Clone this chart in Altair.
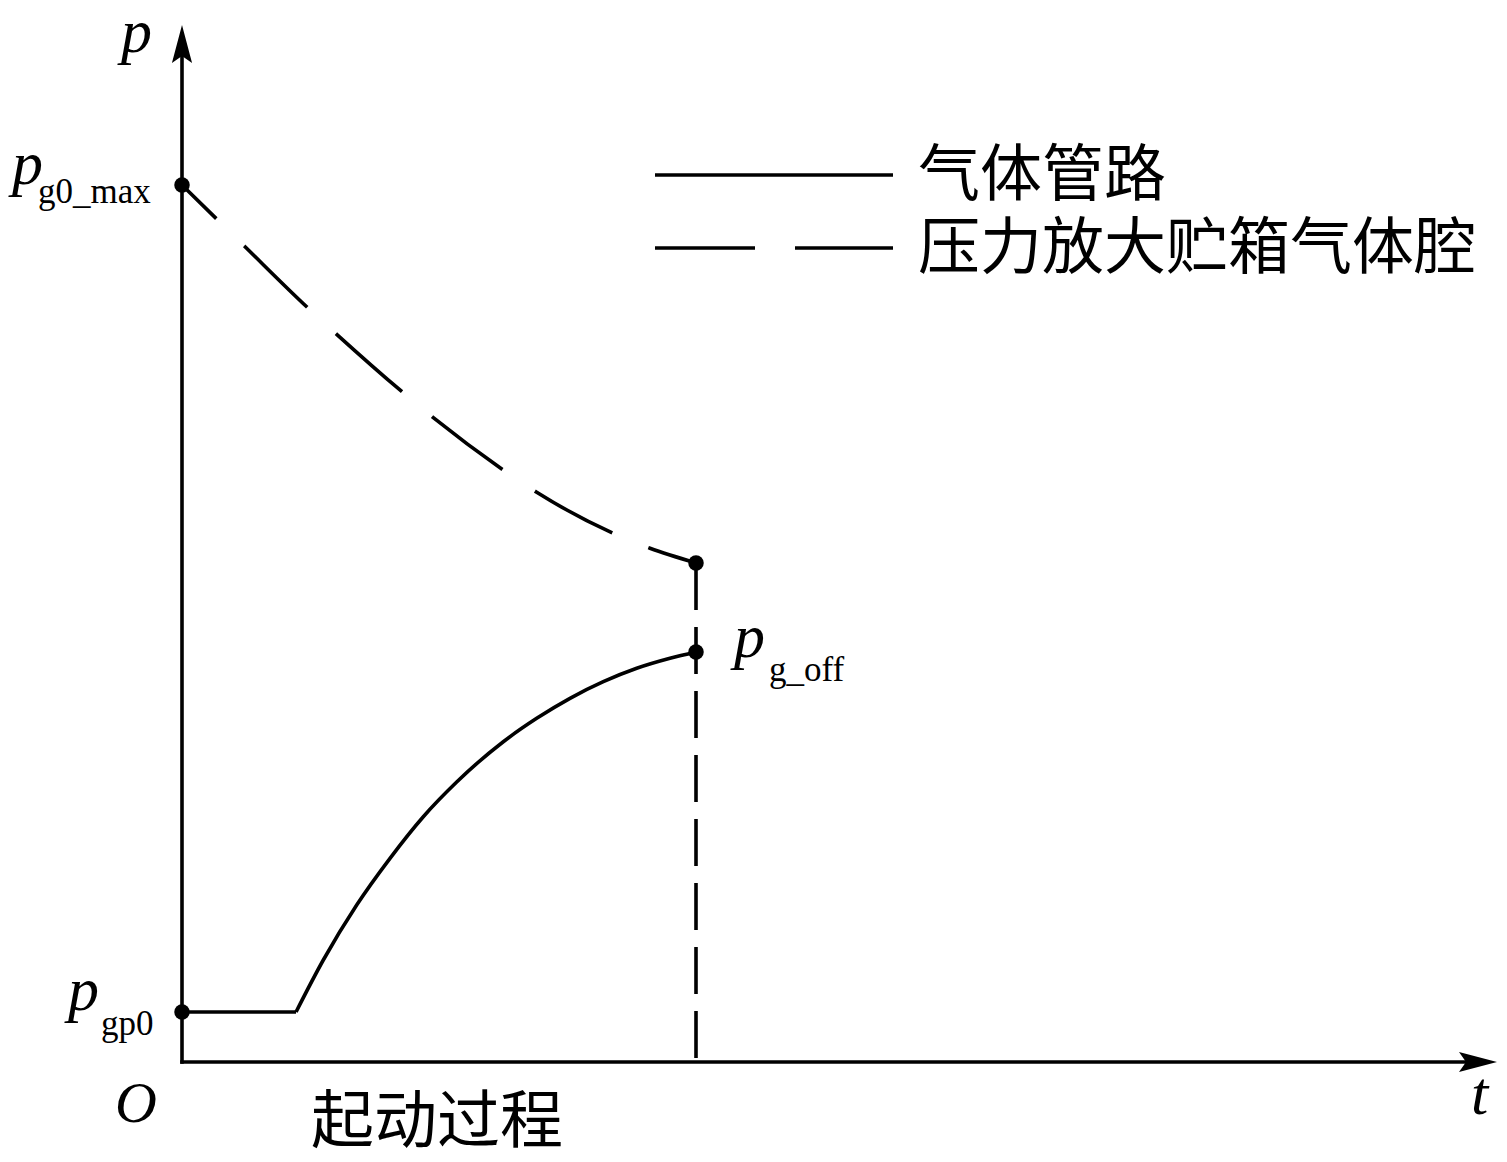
import altair as alt
import pandas as pd

# ---------------- data ----------------
# tank gas cavity pressure (dashed curve)
t_tank = [0.0, 0.347, 0.623, 1.257, 1.547, 2.207, 2.513, 3.213, 3.547, 4.313, 4.68, 5.14]
p_tank = [8.77, 8.43, 8.16, 7.543, 7.277, 6.697, 6.443, 5.92, 5.697, 5.287, 5.137, 4.99]

# gas pipe pressure (solid curve): flat part, then rising part
t_pipe_flat = [0.0, 1.14]
p_pipe_flat = [0.50, 0.50]
t_pipe_rise = [1.14, 1.413, 1.747, 2.08, 2.413, 2.747, 3.213, 3.547, 3.88, 4.213, 4.547, 4.88, 5.14]
p_pipe_rise = [0.50, 1.02, 1.57, 2.037, 2.453, 2.80, 3.203, 3.437, 3.637, 3.803, 3.937, 4.037, 4.10]

t_off = 5.14
p_g0_max = 8.77
p_gp0 = 0.50
p_g_off = 4.10
p_tank_end = 4.99

t_axis_end = 13.15
p_axis_end = 10.37

legend_names = ["气体管路", "压力放大贮箱气体腔"]
legend_t0, legend_t1 = [4.73, 7.11]
legend_p = [8.87, 8.14]
legend_text_t = 7.36

SERIF = "Liberation Serif"
CJK = "Noto Sans CJK SC"
LW = 3.6
SUB = 35

xs = alt.Scale(domain=[-1.74, 13.17], nice=False, zero=False)
ys = alt.Scale(domain=[-0.92, 10.54], nice=False, zero=False)


def X(f="t"):
    return alt.X(f"{f}:Q", scale=xs, axis=None)


def Y(f="p"):
    return alt.Y(f"{f}:Q", scale=ys, axis=None)


# axes
axes_df = pd.DataFrame({"t": [0, 0], "p": [0, 0], "t2": [t_axis_end - 0.2, 0], "p2": [0, p_axis_end - 0.2]})
axes = alt.Chart(axes_df).mark_rule(color="black", strokeWidth=3.6, strokeCap="square").encode(
    x=X(), y=Y(), x2="t2:Q", y2="p2:Q"
)

UP = "M0,-1 L0.53,1 L0,0.63 L-0.53,1 Z"
RIGHT = "M1,0 L-1,0.53 L-0.63,0 L-1,-0.53 Z"
arrow_up = alt.Chart(pd.DataFrame({"t": [0], "p": [p_axis_end]})).mark_point(
    shape=UP, size=1444, filled=True, color="black", opacity=1, strokeWidth=0, yOffset=19
).encode(x=X(), y=Y())
arrow_right = alt.Chart(pd.DataFrame({"t": [t_axis_end], "p": [0]})).mark_point(
    shape=RIGHT, size=1444, filled=True, color="black", opacity=1, strokeWidth=0, xOffset=-19
).encode(x=X(), y=Y())

# curves
tank = alt.Chart(pd.DataFrame({"t": t_tank, "p": p_tank})).mark_line(
    color="black", strokeWidth=LW, strokeDash=[88, 39], strokeDashOffset=40, interpolate="monotone"
).encode(x=X(), y=Y())

pipe_flat = alt.Chart(pd.DataFrame({"t": t_pipe_flat, "p": p_pipe_flat})).mark_line(
    color="black", strokeWidth=LW
).encode(x=X(), y=Y())
pipe_rise = alt.Chart(pd.DataFrame({"t": t_pipe_rise, "p": p_pipe_rise})).mark_line(
    color="black", strokeWidth=LW, interpolate="monotone"
).encode(x=X(), y=Y())

vline = alt.Chart(pd.DataFrame({"t": [t_off], "p": [p_tank_end], "p2": [0]})).mark_rule(
    color="black", strokeWidth=LW, strokeDash=[47, 17]
).encode(x=X(), y=Y(), y2="p2:Q")

dots = alt.Chart(pd.DataFrame({"t": [0, t_off, t_off, 0], "p": [p_g0_max, p_tank_end, p_g_off, p_gp0]})).mark_circle(
    size=240, color="black", opacity=1
).encode(x=X(), y=Y())

# legend (manual)
leg_df = pd.DataFrame({"t": [legend_t0] * 2, "t2": [legend_t1] * 2, "p": legend_p, "name": legend_names})
leg_solid = alt.Chart(leg_df.iloc[[0]]).mark_rule(color="black", strokeWidth=LW).encode(
    x=X(), x2="t2:Q", y=Y()
)
leg_dash = alt.Chart(leg_df.iloc[[1]]).mark_rule(color="black", strokeWidth=LW, strokeDash=[100, 40]).encode(
    x=X(), x2="t2:Q", y=Y()
)
leg_text_df = pd.DataFrame({"t": [legend_text_t] * 2, "p": legend_p, "name": legend_names})
leg_text = alt.Chart(leg_text_df).mark_text(
    font=CJK, fontSize=62, align="left", baseline="alphabetic", dy=21, color="black"
).encode(x=X(), y=Y(), text="name:N")


def label(text, t, p, dx, dy, size, font=SERIF, style="normal", align="left"):
    return alt.Chart(pd.DataFrame({"t": [t], "p": [p], "s": [text]})).mark_text(
        dx=dx, dy=dy, fontSize=size, font=font, fontStyle=style, align=align,
        baseline="alphabetic", color="black"
    ).encode(x=X(), y=Y(), text="s:N")


labels = [
    label("p", 0, p_axis_end, -61, 27, 62, style="italic"),
    label("p", 0, p_g0_max, -170, -1, 62, style="italic"),
    label("g0_max", 0, p_g0_max, -144, 18, SUB),
    label("p", 0, p_gp0, -114, -2, 62, style="italic"),
    label("gp0", 0, p_gp0, -81, 23, SUB),
    label("p", t_off, p_g_off, 38, 5, 62, style="italic"),
    label("g_off", t_off, p_g_off, 73, 29, SUB),
    label("O", 0, 0, -67, 60, 58, style="italic"),
    label("t", t_axis_end, 0, -26, 52, 62, style="italic"),
    label("起动过程", t_off / 2, 0, -2, 80, 63, font=CJK, align="center"),
]

chart = alt.layer(
    axes, arrow_up, arrow_right, tank, pipe_flat, pipe_rise, vline, dots,
    leg_solid, leg_dash, leg_text, *labels
).properties(
    width=1491, height=1146, padding=0, background="white",
    autosize=alt.AutoSizeParams(type="none")
).configure_view(stroke=None)

chart.save("out.html", embed_options={"renderer": "svg", "actions": False})
